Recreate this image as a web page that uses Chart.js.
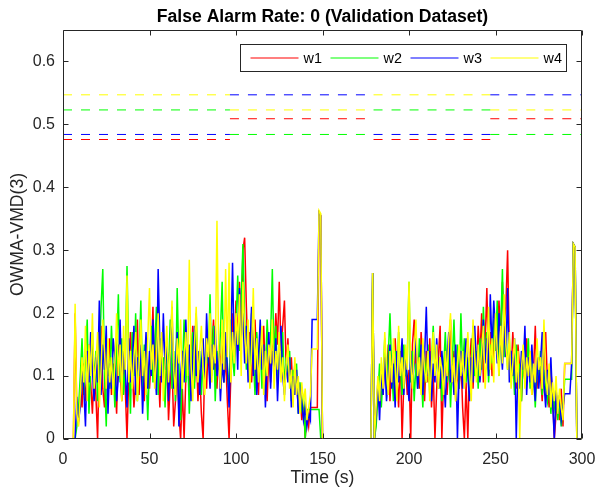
<!DOCTYPE html>
<html lang="en">
<head>
<meta charset="UTF-8">
<title>False Alarm Rate</title>
<script src="https://cdn.jsdelivr.net/npm/chart.js"></script>
<style>
  html, body { margin: 0; padding: 0; background: #fff; }
  #wrap { width: 596px; height: 489px; }
</style>
</head>
<body>
<div id="wrap"><canvas id="chart" width="596" height="489"></canvas></div>
<script>
// one sample per second, t = 0 .. 300 s
const sampleStep = 1;

const w1 = [
  0, 0, 0, 0, 0, 0, 0, 0.20, 0.04, 0.03,
  0.08, 0.05, 0.12, 0.06, 0.10, 0.15, 0.09, 0.04, 0.11, 0.07,
  0.00, 0.13, 0.18, 0.08, 0.05, 0.14, 0.10, 0.16, 0.07, 0.12,
  0.09, 0.04, 0.15, 0.11, 0.06, 0.13, 0.08, 0.00, 0.10, 0.17,
  0.12, 0.05, 0.09, 0.19, 0.07, 0.14, 0.10, 0.06, 0.16, 0.11,
  0.08, 0.13, 0.21, 0.09, 0.17, 0.12, 0.05, 0.15, 0.10, 0.07,
  0.14, 0.03, 0.09, 0.12, 0.02, 0.06, 0.11, 0.04, 0.00, 0.08,
  0.00, 0.10, 0.14, 0.07, 0.12, 0.18, 0.09, 0.15, 0.06, 0.11,
  0.04, 0.00, 0.13, 0.08, 0.16, 0.10, 0.14, 0.19, 0.12, 0.08,
  0.15, 0.11, 0.17, 0.09, 0.13, 0.06, 0.00, 0.10, 0.20, 0.14,
  0.22, 0.15, 0.25, 0.18, 0.30, 0.32, 0.21, 0.12, 0.17, 0.09,
  0.14, 0.19, 0.11, 0.07, 0.16, 0.12, 0.18, 0.10, 0.06, 0.14,
  0.09, 0.17, 0.13, 0.20, 0.15, 0.25, 0.14, 0.18, 0.22, 0.11,
  0.16, 0.10, 0.13, 0.07, 0.12, 0.09, 0.05, 0.08, 0.03, 0.06,
  0.00, 0.04, 0.02, 0.05, 0.05, 0.05, 0.05, 0.05, 0.36, 0.355,
  0, 0, 0, 0, 0, 0, 0, 0, 0, 0,
  0, 0, 0, 0, 0, 0, 0, 0, 0, 0,
  0, 0, 0, 0, 0, 0, 0, 0, 0, 0.264,
  0, 0.03, 0.08, 0.05, 0.11, 0.07, 0.13, 0.09, 0.15, 0.06,
  0.12, 0.08, 0.16, 0.10, 0.05, 0.14, 0.00, 0.09, 0.12, 0.07,
  0.11, 0.00, 0.15, 0.19, 0.10, 0.13, 0.08, 0.17, 0.12, 0.06,
  0.14, 0.09, 0.16, 0.05, 0.11, 0.00, 0.08, 0.13, 0.18, 0.00,
  0.10, 0.15, 0.07, 0.12, 0.19, 0.09, 0.14, 0.06, 0.11, 0.08,
  0.13, 0.05, 0.00, 0.09, 0.00, 0.12, 0.16, 0.08, 0.14, 0.11,
  0.18, 0.13, 0.20, 0.09, 0.15, 0.24, 0.12, 0.17, 0.10, 0.14,
  0.19, 0.13, 0.22, 0.16, 0.25, 0.18, 0.21, 0.30, 0.14, 0.10,
  0.17, 0.12, 0.08, 0.15, 0.11, 0.06, 0.13, 0.09, 0.16, 0.10,
  0.14, 0.07, 0.11, 0.18, 0.08, 0.13, 0.10, 0.06, 0.12, 0.17,
  0.09, 0.05, 0.11, 0.07, 0.00, 0.04, 0.06, 0.03, 0.08, 0.02,
  0.12, 0.12, 0.12, 0.12, 0.12, 0.31, 0.305, 0, 0, 0,
  0
];

const w2 = [
  0, 0, 0, 0, 0, 0, 0, 0, 0.02, 0.05,
  0.10, 0.16, 0.07, 0.13, 0.19, 0.04, 0.11, 0.17, 0.09, 0.14,
  0.06, 0.12, 0.21, 0.27, 0.10, 0.02, 0.15, 0.08, 0.18, 0.11,
  0.05, 0.14, 0.23, 0.09, 0.16, 0.07, 0.12, 0.275, 0.13, 0.04,
  0.17, 0.10, 0.20, 0.06, 0.13, 0.22, 0.08, 0.15, 0.11, 0.03,
  0.12, 0.18, 0.09, 0.14, 0.21, 0.07, 0.16, 0.10, 0.13, 0.05,
  0.15, 0.11, 0.19, 0.08, 0.14, 0.06, 0.24, 0.12, 0.03, 0.10,
  0.19, 0.09, 0.15, 0.04, 0.12, 0.17, 0.08, 0.20, 0.11, 0.14,
  0.07, 0.13, 0.09, 0.16, 0.12, 0.23, 0.10, 0.18, 0.06, 0.14,
  0.11, 0.17, 0.25, 0.09, 0.15, 0.12, 0.07, 0.19, 0.13, 0.10,
  0.18, 0.26, 0.14, 0.22, 0.31, 0.19, 0.11, 0.16, 0.09, 0.20,
  0.13, 0.07, 0.17, 0.12, 0.15, 0.08, 0.14, 0.10, 0.19, 0.13,
  0.16, 0.27, 0.12, 0.18, 0.09, 0.15, 0.11, 0.17, 0.08, 0.13,
  0.10, 0.14, 0.06, 0.11, 0.08, 0.12, 0.04, 0.09, 0.05, 0.07,
  0.00, 0.047, 0.047, 0.047, 0.047, 0.047, 0.047, 0.047, 0.047, 0,
  0, 0, 0, 0, 0, 0, 0, 0, 0, 0,
  0, 0, 0, 0, 0, 0, 0, 0, 0, 0,
  0, 0, 0, 0, 0, 0, 0, 0, 0, 0.264,
  0, 0.02, 0.07, 0.12, 0.05, 0.10, 0.16, 0.08, 0.13, 0.20,
  0.11, 0.06, 0.14, 0.09, 0.17, 0.12, 0.07, 0.15, 0.10, 0.13,
  0.25, 0.09, 0.14, 0.06, 0.12, 0.08, 0.16, 0.11, 0.05, 0.13,
  0.09, 0.15, 0.07, 0.12, 0.18, 0.10, 0.14, 0.08, 0.13, 0.06,
  0.11, 0.17, 0.09, 0.14, 0.05, 0.12, 0.19, 0.10, 0.15, 0.08,
  0.20, 0.11, 0.16, 0.09, 0.13, 0.07, 0.12, 0.18, 0.10, 0.14,
  0.08, 0.16, 0.11, 0.21, 0.13, 0.17, 0.09, 0.15, 0.12, 0.19,
  0.14, 0.22, 0.10, 0.17, 0.27, 0.13, 0.18, 0.11, 0.16, 0.09,
  0.13, 0.07, 0.15, 0.10, 0.12, 0.06, 0.14, 0.09, 0.11, 0.16,
  0.08, 0.13, 0.10, 0.05, 0.12, 0.09, 0.14, 0.07, 0.11, 0.08,
  0.06, 0.10, 0.04, 0.08, 0.05, 0.07, 0.03, 0.06, 0.02, 0.05,
  0.095, 0.095, 0.095, 0.095, 0.095, 0.31, 0.305, 0, 0, 0,
  0
];

const w3 = [
  0, 0, 0, 0, 0, 0, 0, 0, 0.067, 0.03,
  0.05, 0.12, 0.08, 0.02, 0.14, 0.09, 0.17, 0.11, 0.06, 0.13,
  0.09, 0.22, 0.07, 0.15, 0.11, 0.18, 0.04, 0.12, 0.08, 0.16,
  0.13, 0.06, 0.10, 0.19, 0.08, 0.14, 0.11, 0.05, 0.16, 0.09,
  0.12, 0.18, 0.07, 0.13, 0.10, 0.15, 0.04, 0.11, 0.17, 0.08,
  0.14, 0.10, 0.19, 0.12, 0.07, 0.27, 0.15, 0.09, 0.20, 0.11,
  0.16, 0.06, 0.13, 0.21, 0.08, 0.12, 0.17, 0.02, 0.10, 0.14,
  0.09, 0.19, 0.11, 0.15, 0.06, 0.13, 0.18, 0.10, 0.14, 0.07,
  0.12, 0.16, 0.09, 0.20, 0.13, 0.08, 0.15, 0.11, 0.18, 0.10,
  0.14, 0.06, 0.12, 0.09, 0.17, 0.11, 0.05, 0.15, 0.28, 0.13,
  0.19, 0.11, 0.24, 0.16, 0.20, 0.12, 0.18, 0.09, 0.14, 0.21,
  0.10, 0.16, 0.07, 0.13, 0.19, 0.11, 0.15, 0.05, 0.12, 0.17,
  0.08, 0.14, 0.11, 0.16, 0.06, 0.13, 0.18, 0.10, 0.07, 0.12,
  0.09, 0.13, 0.05, 0.10, 0.07, 0.11, 0.04, 0.08, 0.06, 0.03,
  0.05, 0.02, 0.04, 0.03, 0.19, 0.19, 0.19, 0.19, 0.36, 0.355,
  0, 0, 0, 0, 0, 0, 0, 0, 0, 0,
  0, 0, 0, 0, 0, 0, 0, 0, 0, 0,
  0, 0, 0, 0, 0, 0, 0, 0, 0, 0.264,
  0, 0.04, 0.09, 0.03, 0.11, 0.07, 0.13, 0.06, 0.10, 0.15,
  0.08, 0.12, 0.05, 0.14, 0.09, 0.11, 0.16, 0.07, 0.13, 0.10,
  0.06, 0.14, 0.09, 0.12, 0.17, 0.08, 0.11, 0.15, 0.07, 0.13,
  0.21, 0.10, 0.14, 0.06, 0.12, 0.09, 0.16, 0.11, 0.08, 0.14,
  0.10, 0.05, 0.13, 0.17, 0.09, 0.12, 0.07, 0.15, 0.00, 0.11,
  0.14, 0.08, 0.12, 0.16, 0.10, 0.06, 0.13, 0.09, 0.18, 0.11,
  0.15, 0.09, 0.13, 0.19, 0.12, 0.16, 0.10, 0.23, 0.14, 0.22,
  0.17, 0.12, 0.20, 0.15, 0.11, 0.18, 0.13, 0.24, 0.09, 0.14,
  0.10, 0.16, 0.00, 0.12, 0.08, 0.14, 0.11, 0.18, 0.07, 0.13,
  0.09, 0.15, 0.10, 0.06, 0.13, 0.08, 0.12, 0.17, 0.09, 0.05,
  0.11, 0.07, 0.13, 0.06, 0.00, 0.08, 0.04, 0.07, 0.03, 0.05,
  0.072, 0.072, 0.072, 0.072, 0.12, 0.31, 0.305, 0, 0, 0,
  0
];

const w4 = [
  0, 0, 0, 0, 0, 0, 0, 0.215, 0.04, 0.02,
  0.07, 0.13, 0.09, 0.18, 0.06, 0.15, 0.10, 0.20, 0.08, 0.12,
  0.17, 0.05, 0.11, 0.19, 0.14, 0.08, 0.16, 0.09, 0.13, 0.07,
  0.12, 0.20, 0.10, 0.15, 0.06, 0.18, 0.11, 0.26, 0.09, 0.14,
  0.08, 0.13, 0.17, 0.06, 0.12, 0.19, 0.10, 0.14, 0.07, 0.16,
  0.24, 0.11, 0.15, 0.08, 0.13, 0.20, 0.10, 0.17, 0.06, 0.12,
  0.18, 0.09, 0.14, 0.22, 0.11, 0.07, 0.16, 0.12, 0.19, 0.08,
  0.13, 0.17, 0.10, 0.285, 0.12, 0.06, 0.15, 0.21, 0.09, 0.14,
  0.18, 0.11, 0.07, 0.16, 0.13, 0.20, 0.09, 0.15, 0.12, 0.347,
  0.14, 0.08, 0.19, 0.11, 0.27, 0.13, 0.28, 0.09, 0.17, 0.12,
  0.20, 0.15, 0.23, 0.10, 0.25, 0.17, 0.12, 0.19, 0.08, 0.14,
  0.24, 0.11, 0.16, 0.09, 0.13, 0.18, 0.07, 0.14, 0.10, 0.15,
  0.12, 0.19, 0.08, 0.14, 0.11, 0.17, 0.09, 0.13, 0.06, 0.12,
  0.15, 0.08, 0.11, 0.05, 0.13, 0.07, 0.10, 0.04, 0.09, 0.06,
  0.08, 0.03, 0.05, 0.07, 0.143, 0.143, 0.143, 0.143, 0.363, 0.358,
  0, 0, 0, 0, 0, 0, 0, 0, 0, 0,
  0, 0, 0, 0, 0, 0, 0, 0, 0, 0,
  0, 0, 0, 0, 0, 0, 0, 0, 0, 0.264,
  0, 0.05, 0.10, 0.06, 0.13, 0.08, 0.17, 0.11, 0.07, 0.14,
  0.09, 0.16, 0.12, 0.06, 0.18, 0.10, 0.13, 0.08, 0.15, 0.11,
  0.25, 0.12, 0.08, 0.14, 0.19, 0.10, 0.13, 0.07, 0.16, 0.11,
  0.09, 0.14, 0.06, 0.12, 0.17, 0.10, 0.15, 0.08, 0.13, 0.11,
  0.07, 0.14, 0.10, 0.16, 0.20, 0.09, 0.13, 0.06, 0.12, 0.15,
  0.10, 0.14, 0.08, 0.12, 0.17, 0.11, 0.06, 0.19, 0.13, 0.09,
  0.15, 0.10, 0.14, 0.18, 0.08, 0.13, 0.21, 0.11, 0.16, 0.09,
  0.20, 0.14, 0.10, 0.18, 0.12, 0.23, 0.15, 0.11, 0.17, 0.08,
  0.12, 0.16, 0.09, 0.14, 0.00, 0.11, 0.15, 0.08, 0.13, 0.10,
  0.14, 0.07, 0.12, 0.09, 0.16, 0.11, 0.13, 0.08, 0.19, 0.10,
  0.07, 0.12, 0.05, 0.09, 0.06, 0.10, 0.04, 0.08, 0.05, 0.03,
  0.12, 0.12, 0.12, 0.12, 0.12, 0.31, 0.305, 0, 0, 0,
  0
];

const seriesNames = ['w1', 'w2', 'w3', 'w4'];
const seriesColors = ['#ff0000', '#00ff00', '#0000ff', '#ffff00'];

// dashed thresholds, one level per time block
const thrBreaks = [0, 96.5, 179.5, 247, 300];
const thrW1 = [0.476, 0.509, 0.476, 0.509];
const thrW2 = [0.523, 0.484, 0.523, 0.484];
const thrW3 = [0.484, 0.547, 0.484, 0.547];
const thrW4 = [0.547, 0.523, 0.547, 0.523];

const xTicks = [0, 50, 100, 150, 200, 250, 300];
const yTicks = [0, 0.1, 0.2, 0.3, 0.4, 0.5, 0.6];

const FONT = "'Liberation Sans', Arial, Helvetica, sans-serif";
const AXIS_COLOR = '#262626';

const datasets = [];
[thrW1, thrW2, thrW3, thrW4].forEach((levels, k) => {
  const pts = [];
  levels.forEach((v, s) => {
    pts.push({ x: thrBreaks[s], y: v }, { x: thrBreaks[s + 1], y: v });
    if (s < levels.length - 1) pts.push({ x: thrBreaks[s + 1], y: null });
  });
  datasets.push({
    label: 'thr ' + seriesNames[k],
    data: pts,
    borderColor: seriesColors[k],
    borderWidth: 1,
    borderDash: [9, 9],
    pointRadius: 0,
    spanGaps: false,
    order: 20
  });
});
[w1, w2, w3, w4].forEach((vals, k) => {
  datasets.push({
    label: seriesNames[k],
    data: vals.map((v, i) => ({ x: i * sampleStep, y: v })),
    borderColor: seriesColors[k],
    borderWidth: 1.5,
    pointRadius: 0,
    tension: 0,
    order: 10 - k
  });
});

// MATLAB style box with inward ticks
const boxPlugin = {
  id: 'box',
  afterDatasetsDraw(chart) {
    const { ctx, chartArea: a, scales } = chart;
    const L = Math.round(a.left) + 0.5, R = Math.round(a.right) - 0.5;
    const T = Math.round(a.top) + 0.5, B = Math.round(a.bottom) - 0.5;
    ctx.save();
    ctx.strokeStyle = AXIS_COLOR;
    ctx.lineWidth = 1;
    ctx.beginPath();
    xTicks.forEach(v => {
      const x = Math.round(scales.x.getPixelForValue(v)) + 0.5;
      ctx.moveTo(x, B); ctx.lineTo(x, B - 5);
      ctx.moveTo(x, T); ctx.lineTo(x, T + 5);
    });
    yTicks.forEach(v => {
      const y = Math.round(scales.y.getPixelForValue(v)) + 0.5;
      ctx.moveTo(L, y); ctx.lineTo(L + 5, y);
      ctx.moveTo(R, y); ctx.lineTo(R - 5, y);
    });
    ctx.rect(L, T, R - L, B - T);
    ctx.stroke();
    ctx.restore();
  }
};

// legend box inside the axes, top right, horizontal
const legendPlugin = {
  id: 'insideLegend',
  afterDraw(chart) {
    const { ctx, chartArea: a } = chart;
    const bw = 326, bh = 27;
    const bx = Math.round(a.right) - 16 - bw + 0.5;
    const by = Math.round(a.top) + 14 + 0.5;
    ctx.save();
    ctx.fillStyle = '#fff';
    ctx.fillRect(bx, by, bw, bh);
    ctx.strokeStyle = AXIS_COLOR;
    ctx.lineWidth = 1;
    ctx.strokeRect(bx, by, bw, bh);
    ctx.font = '14.4px ' + FONT;
    ctx.textBaseline = 'middle';
    ctx.fillStyle = '#000';
    const cy = by + bh / 2;
    seriesNames.forEach((name, i) => {
      const x0 = bx + 10 + i * 80;
      ctx.strokeStyle = seriesColors[i];
      ctx.lineWidth = 1.2;
      ctx.beginPath();
      ctx.moveTo(x0, cy); ctx.lineTo(x0 + 48, cy);
      ctx.stroke();
      ctx.fillText(name, x0 + 53, cy + 1);
    });
    ctx.restore();
  }
};

new Chart(document.getElementById('chart'), {
  type: 'line',
  data: { datasets },
  options: {
    responsive: false,
    animation: false,
    events: [],
    layout: { padding: { left: 0, right: 14, top: 0, bottom: 0 } },
    plugins: {
      legend: { display: false },
      tooltip: { enabled: false },
      title: {
        display: true,
        fullSize: false,
        text: 'False Alarm Rate: 0 (Validation Dataset)',
        color: '#000',
        font: { family: FONT, size: 17.6, weight: 'bold' },
        padding: { top: 6.5, bottom: 2.4 }
      }
    },
    scales: {
      x: {
        type: 'linear',
        min: 0,
        max: 300,
        afterBuildTicks: s => { s.ticks = xTicks.map(v => ({ value: v })); },
        afterFit: s => { s.height = 50; s.paddingLeft = 0; s.paddingRight = 0; },
        grid: { display: false, drawTicks: false },
        border: { display: false },
        ticks: {
          color: AXIS_COLOR,
          font: { family: FONT, size: 16 },
          padding: 11,
          maxRotation: 0,
          callback: v => String(v)
        },
        title: {
          display: true,
          text: 'Time (s)',
          color: AXIS_COLOR,
          font: { family: FONT, size: 17.6 },
          padding: { top: 0, bottom: 0.5 }
        }
      },
      y: {
        type: 'linear',
        min: 0,
        max: 0.65,
        afterBuildTicks: s => { s.ticks = yTicks.map(v => ({ value: v })); },
        afterFit: s => { s.width = 63; s.paddingTop = 0; s.paddingBottom = 0; },
        grid: { display: false, drawTicks: false },
        border: { display: false },
        ticks: {
          color: AXIS_COLOR,
          font: { family: FONT, size: 16 },
          padding: 8,
          callback: v => (v === 0 ? '0' : v.toFixed(1))
        },
        title: {
          display: true,
          text: 'OWMA-VMD(3)',
          color: AXIS_COLOR,
          font: { family: FONT, size: 17.6 },
          padding: { top: 7.5, bottom: 0 }
        }
      }
    }
  },
  plugins: [boxPlugin, legendPlugin]
});
</script>
</body>
</html>
